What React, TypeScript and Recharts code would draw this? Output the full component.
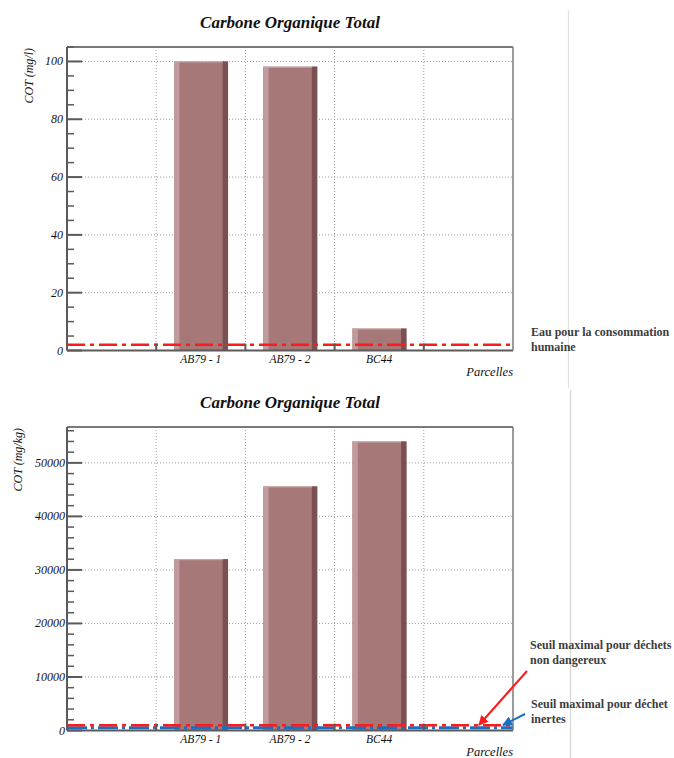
import React from 'react';
import { BarChart, Bar, XAxis, YAxis, CartesianGrid, ReferenceLine, Label } from 'recharts';

// ---------- data ----------
const categories = ['', 'AB79 - 1', 'AB79 - 2', 'BC44', ''];
const eauValues = [0, 100, 98.2, 7.6, 0];
const solValues = [0, 32000, 45600, 54000, 0];

const eauTicks = [0, 5, 10, 15, 20, 25, 30, 35, 40, 45, 50, 55, 60, 65, 70, 75, 80, 85, 90, 95, 100, 105];
const eauMajorTicks = [0, 20, 40, 60, 80, 100];
const eauDomainMax = 105;

const solTicks = [0, 2000, 4000, 6000, 8000, 10000, 12000, 14000, 16000, 18000, 20000, 22000, 24000, 26000, 28000, 30000, 32000, 34000, 36000, 38000, 40000, 42000, 44000, 46000, 48000, 50000, 52000, 54000, 56000];
const solMajorTicks = [0, 10000, 20000, 30000, 40000, 50000];
const solDomainMax = 56700;

const eauLimit = 2;
const nonDangerousLimit = 1000;
const inertLimit = 500;

const title = 'Carbone Organique Total';
const xTitle = 'Parcelles';
const eauYTitle = 'COT (mg/l)';
const solYTitle = 'COT (mg/kg)';

// ---------- styles ----------
const SERIF = '"Liberation Serif", "Times New Roman", serif';
const AXIS = '#5a5a5a';
const FRAME = '#7a7a7a';
const BAR_MAIN = '#a67878';
const BAR_LIGHT = '#c09a9c';
const BAR_DARK = '#7a5052';
const RED = '#ff1a1a';
const BLUE = '#1b6fc0';

const BarShape = (props: any) => {
  const { x, y, width, height } = props;
  if (!height || height < 0.5) {
    return <line x1={x} x2={x + width} y1={y + 1} y2={y + 1} stroke="#8a7c7c" strokeWidth={1.5} />;
  }
  const side = width * 0.1;
  return (
    <g>
      <rect x={x} y={y} width={width} height={height} fill={BAR_MAIN} />
      <rect x={x} y={y} width={side} height={height} fill={BAR_LIGHT} />
      <rect x={x + width - side} y={y} width={side} height={height} fill={BAR_DARK} />
      <line x1={x} x2={x + width - side} y1={y + 0.5} y2={y + 0.5} stroke="#c9a9aa" strokeWidth={1} />
    </g>
  );
};

const makeYTick = (majors: number[], margin: number) => (props: any) => {
  const { x, y, payload } = props;
  const axisX = x + margin;
  const isMajor = majors.includes(payload.value);
  return (
    <g>
      <line x1={axisX} x2={axisX + (isMajor ? 15 : 7)} y1={y} y2={y} stroke={AXIS} strokeWidth={isMajor ? 2 : 1.5} />
      {isMajor && (
        <text x={x} y={y} dy={4} textAnchor="end" fontFamily={SERIF} fontStyle="italic" fontSize={12} fill="#111">
          {payload.value}
        </text>
      )}
    </g>
  );
};

const XTick = (props: any) => {
  const { x, y, payload, index } = props;
  const half = payload && typeof payload.offset === 'number' && payload.offset > 0 ? payload.offset : 44.6;
  return (
    <g>
      <text x={x} y={y} dy={12} textAnchor="middle" fontFamily={SERIF} fontStyle="italic" fontSize={11.5} fill="#111">
        {payload.value}
      </text>
      {index < categories.length - 1 && (
        <line x1={x + half} x2={x + half} y1={y} y2={y - 7} stroke={AXIS} strokeWidth={2} />
      )}
    </g>
  );
};

type PanelProps = {
  values: number[];
  ticks: number[];
  majors: number[];
  domainMax: number;
  yTitle: string;
  yTitleDx: number;
  tickMargin: number;
  limits: { value: number; color: string; width: number; dash: string }[];
};

const Panel = ({ values, ticks, majors, domainMax, yTitle, yTitleDx, tickMargin, limits }: PanelProps) => {
  const data = categories.map((name, i) => ({ name, value: values[i] }));
  const n = categories.length;
  return (
    <BarChart
      width={674}
      height={380}
      data={data}
      margin={{ top: 46, right: 160, bottom: 9.5, left: 7 }}
      barCategoryGap="20%"
    >
      <CartesianGrid
        stroke="#9a9a9a"
        strokeDasharray="1 2"
        horizontalValues={majors.filter((v) => v > 0)}
        verticalCoordinatesGenerator={({ offset }: any) =>
          Array.from({ length: n - 1 }, (_, i) => offset.left + ((i + 1) * offset.width) / n)
        }
      />
      <XAxis
        dataKey="name"
        height={20}
        tickLine={false}
        tickSize={0}
        tickMargin={0}
        interval={0}
        axisLine={{ stroke: AXIS, strokeWidth: 2 }}
        tick={<XTick />}
      >
        <Label
          content={(p: any) => {
            const vb = p.viewBox;
            return (
              <text x={vb.x + vb.width} y={vb.y + 25} textAnchor="end" fontFamily={SERIF} fontStyle="italic" fontSize={12.5} fill="#111">
                {xTitle}
              </text>
            );
          }}
        />
      </XAxis>
      <XAxis xAxisId="top" orientation="top" dataKey="name" height={1} tick={false} tickLine={false} axisLine={{ stroke: FRAME, strokeWidth: 2 }} />
      <YAxis
        type="number"
        width={60}
        domain={[0, domainMax]}
        allowDataOverflow
        ticks={ticks}
        interval={0}
        tickLine={false}
        tickSize={0}
        tickMargin={tickMargin}
        axisLine={{ stroke: AXIS, strokeWidth: 2 }}
        tick={makeYTick(majors, tickMargin)}
      >
        <Label
          content={(p: any) => {
            const vb = p.viewBox;
            const lx = vb.x + yTitleDx;
            const ly = vb.y + 1;
            return (
              <text x={lx} y={ly} transform={`rotate(-90, ${lx}, ${ly})`} textAnchor="end" fontFamily={SERIF} fontStyle="italic" fontSize={12} fill="#111">
                {yTitle}
              </text>
            );
          }}
        />
      </YAxis>
      <YAxis yAxisId="right" orientation="right" width={1} domain={[0, 1]} tick={false} tickLine={false} axisLine={{ stroke: FRAME, strokeWidth: 1.5 }} />
      <Bar dataKey="value" shape={<BarShape />} isAnimationActive={false} />
      {limits.map((l, i) => (
        <ReferenceLine key={i} y={l.value} stroke={l.color} strokeWidth={l.width} strokeDasharray={l.dash} />
      ))}
    </BarChart>
  );
};

const textStyle = { fontFamily: SERIF, fontSize: 12, fontWeight: 700, fill: '#3c3c3c' } as const;

export default function App() {
  return (
    <div style={{ position: 'absolute', left: 0, top: 0, width: 674, height: 758, background: '#fff', overflow: 'hidden' }}>
      <div style={{ position: 'absolute', left: 0, top: 0 }}>
        <Panel
          values={eauValues}
          ticks={eauTicks}
          majors={eauMajorTicks}
          domainMax={eauDomainMax}
          yTitle={eauYTitle}
          yTitleDx={26}
          tickMargin={4}
          limits={[{ value: eauLimit, color: RED, width: 2.5, dash: '18 5 4 5' }]}
        />
      </div>
      <div style={{ position: 'absolute', left: 0, top: 380 }}>
        <Panel
          values={solValues}
          ticks={solTicks}
          majors={solMajorTicks}
          domainMax={solDomainMax}
          yTitle={solYTitle}
          yTitleDx={15}
          tickMargin={2}
          limits={[
            { value: inertLimit, color: BLUE, width: 3, dash: '20 4 3 4' },
            { value: nonDangerousLimit, color: RED, width: 2.5, dash: '18 5 4 5' },
          ]}
        />
      </div>
      <svg width={674} height={758} style={{ position: 'absolute', left: 0, top: 0, pointerEvents: 'none' }}>
        <defs>
          <marker id="arrRed" viewBox="0 0 10 10" refX="9" refY="5" markerWidth="5" markerHeight="5" orient="auto">
            <path d="M0,0 L10,5 L0,10 z" fill={RED} />
          </marker>
          <marker id="arrBlue" viewBox="0 0 10 10" refX="9" refY="5" markerWidth="5" markerHeight="5" orient="auto">
            <path d="M0,0 L10,5 L0,10 z" fill={BLUE} />
          </marker>
        </defs>
        <line x1={568.5} x2={568.5} y1={10} y2={388} stroke="#e2e2e2" strokeWidth={1.2} />
        <line x1={570.5} x2={570.5} y1={390} y2={758} stroke="#d8d8d8" strokeWidth={1.2} />
        <text x={290} y={28} textAnchor="middle" fontFamily={SERIF} fontStyle="italic" fontWeight={700} fontSize={17} fill="#111">{title}</text>
        <text x={290} y={408} textAnchor="middle" fontFamily={SERIF} fontStyle="italic" fontWeight={700} fontSize={17} fill="#111">{title}</text>
        <text x={531} y={336} {...textStyle}>Eau pour la consommation</text>
        <text x={531} y={351} {...textStyle}>humaine</text>
        <text x={530} y={649} {...textStyle}>Seuil maximal pour déchets</text>
        <text x={530} y={664} {...textStyle}>non dangereux</text>
        <text x={531} y={708} {...textStyle}>Seuil maximal pour déchet</text>
        <text x={531} y={723} {...textStyle}>inertes</text>
        <line x1={527} y1={671} x2={479} y2={725} stroke={RED} strokeWidth={2} markerEnd="url(#arrRed)" />
        <line x1={525} y1={714} x2={503} y2={725} stroke={BLUE} strokeWidth={2} markerEnd="url(#arrBlue)" />
      </svg>
    </div>
  );
}
